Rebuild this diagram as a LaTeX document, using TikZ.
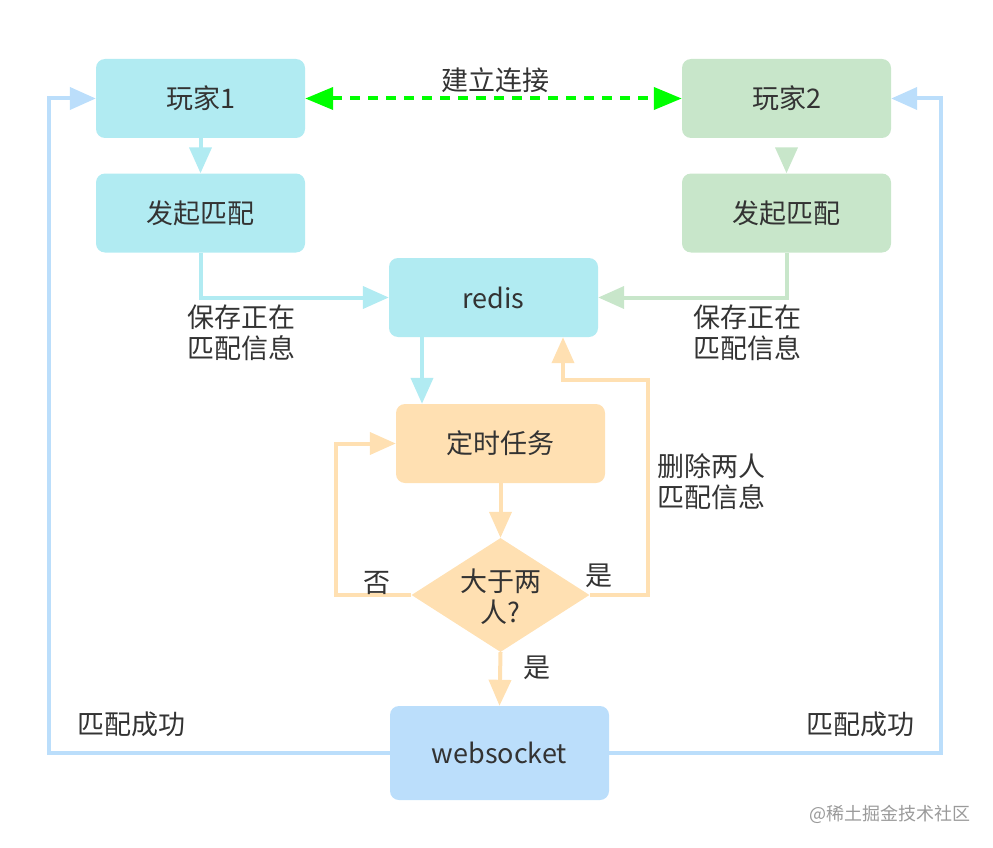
\documentclass[tikz,border=0pt]{standalone}
\usepackage{fontspec}
\setmainfont{Noto Sans CJK SC}
\usetikzlibrary{arrows.meta,shapes.geometric}
\definecolor{cyanf}{HTML}{B1EBF2}
\definecolor{greenf}{HTML}{C8E6CA}
\definecolor{orangef}{HTML}{FFE0B2}
\definecolor{bluef}{HTML}{BBDEFB}
\definecolor{txt}{HTML}{333333}
\definecolor{wm}{HTML}{9A9A9A}
\begin{document}
\begin{tikzpicture}[x=1pt,y=-1pt,
  box/.style={rounded corners=9pt,minimum width=209pt,minimum height=79pt,inner sep=0pt,text=txt,font=\fontsize{27}{31}\selectfont},
  lbl/.style={text=txt,font=\fontsize{27}{31}\selectfont,align=left,inner sep=0pt},
  conn/.style={line width=4pt,-{Triangle[length=26pt,width=22pt]}},
]
\useasboundingbox (0,0) rectangle (993,848);
% nodes
\node[box,fill=cyanf] (p1) at (200.5,98.5) {玩家1};
\node[box,fill=cyanf] (m1) at (200.5,213) {发起匹配};
\node[box,fill=greenf] (p2) at (786.5,98.5) {玩家2};
\node[box,fill=greenf] (m2) at (786.5,213) {发起匹配};
\node[box,fill=cyanf] (redis) at (493.5,297.5) {redis};
\node[box,fill=orangef] (task) at (500.5,443.5) {定时任务};
\node[diamond,fill=orangef,minimum width=178pt,minimum height=114pt,inner sep=0pt,aspect=1.56] (dec) at (500.5,595) {};
\node[lbl,align=center] (dect) at (500.5,597) {大于两\\人?};
\node[box,fill=bluef,minimum width=219pt,minimum height=94pt] (ws) at (499.5,753) {websocket};
% coordinates
\coordinate (ld) at (49,753);
\coordinate (lu) at (49,98.5);
\coordinate (rd) at (941,753);
\coordinate (ru) at (941,98.5);
\coordinate (g2) at (786.5,150);
% connectors
\draw[conn,draw=cyanf] (p1) -- (m1);
\draw[conn,draw=greenf] (g2) -- (m2.north);
\draw[conn,draw=cyanf] (m1.south) |- (redis.west);
\draw[conn,draw=greenf] (m2.south) |- (redis.east);
\draw[conn,draw=cyanf] (redis.south -| 422,0) -- (task.north -| 422,0);
\draw[conn,draw=orangef] (task.south) -- (dec.north);
\draw[conn,draw=orangef] (dec.west) -- (336,595) |- (task.west);
\draw[conn,draw=orangef] (dec.east) -- (648,595) |- (563,380) -- (redis.south -| 563,0);
\draw[conn,draw=orangef] (dec.south) -- (ws.north);
\draw[conn,draw=bluef] (ws.west) -- (ld) -- (lu) -- (p1.west);
\draw[conn,draw=bluef] (ws.east) -- (rd) -- (ru) -- (p2.east);
\draw[line width=4pt,draw=green,dash pattern=on 10pt off 8pt,{Triangle[length=28pt,width=22pt]}-{Triangle[length=28pt,width=22pt]}] (p1.east) -- (p2.west);
% labels
\node[lbl] at (495,80) {建立连接};
\node[lbl] at (241,333) {保存正在\\匹配信息};
\node[lbl] at (747,333) {保存正在\\匹配信息};
\node[lbl] at (711,482) {删除两人\\匹配信息};
\node[lbl] at (377,583) {否};
\node[lbl] at (599,576) {是};
\node[lbl] at (537,668) {是};
\node[lbl] at (131,724) {匹配成功};
\node[lbl] at (860,724) {匹配成功};
\node[text=wm,font=\fontsize{18}{22}\selectfont,inner sep=0pt] at (890,814) {@稀土掘金技术社区};
\end{tikzpicture}
\end{document}
